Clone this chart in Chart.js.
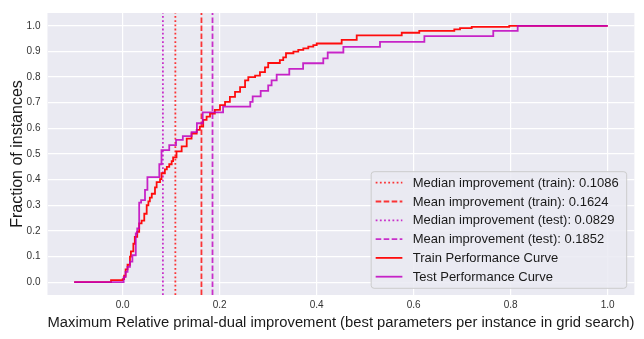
<!DOCTYPE html>
<html><head><meta charset="utf-8">
<script src="https://cdn.jsdelivr.net/npm/chart.js@4.4.0/dist/chart.umd.min.js"></script>
<style>html,body{margin:0;padding:0;background:#fff;}#wrap{width:644px;height:339px;}</style>
</head><body><div id="wrap"><canvas id="c" width="644" height="339"></canvas></div>
<script>
const trainX = [-0.1, -0.024, 0.0, 0.003, 0.006, 0.010, 0.015, 0.017, 0.022, 0.025, 0.030, 0.034, 0.039, 0.0445, 0.0495, 0.053, 0.056, 0.060, 0.0666, 0.070, 0.077, 0.080, 0.087, 0.091, 0.096, 0.101, 0.104, 0.111, 0.1216, 0.132, 0.142, 0.1526, 0.159, 0.166, 0.173, 0.180, 0.190, 0.2006, 0.211, 0.221, 0.2316, 0.242, 0.2523, 0.259, 0.273, 0.283, 0.2934, 0.300, 0.324, 0.331, 0.3367, 0.352, 0.362, 0.3724, 0.3827, 0.393, 0.400, 0.4515, 0.4825, 0.5753, 0.6115, 0.6837, 0.6955, 0.7196, 0.797, 1.0];
const trainY = [0, 0.008, 0.012, 0.025, 0.05, 0.068, 0.10, 0.12, 0.15, 0.177, 0.196, 0.229, 0.24, 0.267, 0.30, 0.315, 0.33, 0.345, 0.37, 0.39, 0.402, 0.425, 0.44, 0.45, 0.46, 0.472, 0.487, 0.51, 0.53, 0.56, 0.58, 0.594, 0.607, 0.633, 0.646, 0.658, 0.672, 0.691, 0.703, 0.723, 0.742, 0.761, 0.787, 0.80, 0.806, 0.819, 0.838, 0.855, 0.866, 0.877, 0.893, 0.899, 0.906, 0.912, 0.919, 0.925, 0.931, 0.945, 0.963, 0.973, 0.98, 0.986, 0.991, 0.996, 1.0, 1.0];
const testX = [-0.1, 0.002, 0.006, 0.010, 0.015, 0.020, 0.027, 0.030, 0.034, 0.038, 0.046, 0.051, 0.0755, 0.080, 0.096, 0.110, 0.124, 0.142, 0.153, 0.165, 0.207, 0.263, 0.268, 0.2845, 0.300, 0.307, 0.3175, 0.3435, 0.372, 0.4136, 0.4227, 0.455, 0.5305, 0.622, 0.764, 0.8144, 1.0];
const testY = [0, 0.02, 0.04, 0.06, 0.08, 0.105, 0.19, 0.21, 0.31, 0.32, 0.36, 0.41, 0.46, 0.515, 0.535, 0.555, 0.57, 0.585, 0.62, 0.662, 0.685, 0.703, 0.725, 0.746, 0.768, 0.787, 0.81, 0.832, 0.854, 0.873, 0.896, 0.918, 0.937, 0.96, 0.98, 1.0, 1.0];
const statValues = [0.1086, 0.1624, 0.0829, 0.1852];
const statLabels = ['Median improvement (train): 0.1086', 'Mean improvement (train): 0.1624', 'Median improvement (test): 0.0829', 'Mean improvement (test): 0.1852'];
const curveLabels = ['Train Performance Curve', 'Test Performance Curve'];
const xTicks = [0.0, 0.2, 0.4, 0.6, 0.8, 1.0];
const yTicks = [0.0, 0.1, 0.2, 0.3, 0.4, 0.5, 0.6, 0.7, 0.8, 0.9, 1.0];
const xRange = [-0.155, 1.055];
const yRange = [-0.05, 1.05];
const xTitle = 'Maximum Relative primal-dual improvement (best parameters per instance in grid search)';
const yTitle = 'Fraction of instances';

const FONT = "'Liberation Sans', Arial, Helvetica, sans-serif";
Chart.defaults.font.family = FONT;
const RED = 'rgba(255,0,0,0.95)';
const RED_V = 'rgba(255,0,0,0.78)';
const MAG = 'rgba(191,0,191,0.85)';
const MAG_V = 'rgba(191,0,191,0.8)';
const DOT = [1.8, 2.4];
const DASH = [5.6, 2.4];
const statStyles = [
  {color: RED_V, dash: DOT}, {color: RED_V, dash: DASH},
  {color: MAG_V, dash: DOT}, {color: MAG_V, dash: DASH}
];

const datasets = [];
statValues.forEach((v, i) => {
  datasets.push({
    label: statLabels[i],
    data: [{x: v, y: yRange[0]}, {x: v, y: yRange[1]}],
    borderColor: statStyles[i].color,
    borderDash: statStyles[i].dash,
    borderWidth: 1.8,
    pointRadius: 0,
    order: 5 + i
  });
});
datasets.push({
  label: curveLabels[0],
  data: trainX.map((x, i) => ({x, y: trainY[i]})),
  borderColor: RED, borderWidth: 1.8, pointRadius: 0, stepped: 'before', order: 1
});
datasets.push({
  label: curveLabels[1],
  data: testX.map((x, i) => ({x, y: testY[i]})),
  borderColor: MAG, borderWidth: 1.8, pointRadius: 0, stepped: 'before', order: 0
});

const bgPlugin = {
  id: 'bg',
  beforeDraw(chart) {
    const {ctx, chartArea: a} = chart;
    ctx.save();
    ctx.fillStyle = '#EAEAF2';
    ctx.fillRect(a.left, a.top, a.right - a.left, a.bottom - a.top);
    ctx.restore();
  }
};

const legendPlugin = {
  id: 'boxLegend',
  afterDatasetsDraw(chart) {
    const ctx = chart.ctx, a = chart.chartArea;
    const ds = chart.data.datasets;
    ctx.save();
    ctx.font = '13px ' + FONT;
    let tw = 0;
    ds.forEach(d => { tw = Math.max(tw, ctx.measureText(d.label).width); });
    const rowH = 18.8, padT = 11, padB = 11.6, handleL = 4.5, handleW = 26.7, textOff = 41.6;
    const w = textOff + tw + 8;
    const h = padT + rowH * (ds.length - 1) + padB;
    const x = a.right - 7.7 - w, y = a.bottom - 6.7 - h;
    ctx.beginPath();
    ctx.roundRect(x, y, w, h, 3);
    ctx.fillStyle = 'rgba(234,234,242,0.85)';
    ctx.fill();
    ctx.strokeStyle = '#cccccc';
    ctx.lineWidth = 1;
    ctx.stroke();
    ds.forEach((d, i) => {
      const cy = y + padT + i * rowH;
      ctx.beginPath();
      ctx.setLineDash(d.borderDash || []);
      ctx.strokeStyle = d.borderColor;
      ctx.lineWidth = d.borderWidth;
      ctx.moveTo(x + handleL, cy);
      ctx.lineTo(x + handleL + handleW, cy);
      ctx.stroke();
      ctx.setLineDash([]);
      ctx.fillStyle = '#1a1a1a';
      ctx.textBaseline = 'middle';
      ctx.textAlign = 'left';
      ctx.fillText(d.label, x + textOff, cy + 0.5);
    });
    ctx.restore();
  }
};

new Chart(document.getElementById('c'), {
  type: 'line',
  data: {datasets},
  plugins: [bgPlugin, legendPlugin],
  options: {
    responsive: false,
    animation: false,
    devicePixelRatio: 1,
    layout: {padding: {left: 0, right: 9.6, top: 10.7, bottom: 0}},
    plugins: {legend: {display: false}, tooltip: {enabled: false}},
    scales: {
      x: {
        type: 'linear', min: xRange[0], max: xRange[1],
        afterBuildTicks(s) { s.ticks = xTicks.map(v => ({value: v})); },
        afterFit(s) { s.height = 339 - 295; },
        grid: {color: '#ffffff', lineWidth: 1.2, drawTicks: false},
        border: {display: false},
        ticks: {padding: 4, color: '#333333', font: {size: 10}, maxRotation: 0, callback: v => v.toFixed(1)},
        title: {display: true, text: xTitle, color: '#1a1a1a', font: {size: 15.3}, padding: {top: 0, bottom: 7}}
      },
      y: {
        type: 'linear', min: yRange[0], max: yRange[1],
        afterBuildTicks(s) { s.ticks = yTicks.map(v => ({value: v})); },
        afterFit(s) { s.width = 47.5; },
        grid: {color: '#ffffff', lineWidth: 1.2, drawTicks: false},
        border: {display: false},
        ticks: {padding: 7, color: '#333333', font: {size: 10}, callback: v => v.toFixed(1)},
        title: {display: true, text: yTitle, color: '#1a1a1a', font: {size: 16}, padding: {top: 8, bottom: 0}}
      }
    }
  }
});
</script></body></html>
